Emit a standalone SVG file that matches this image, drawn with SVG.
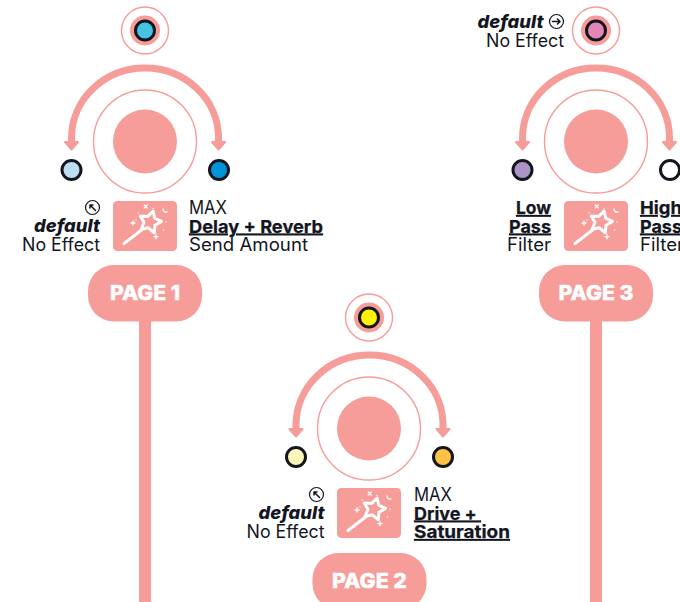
<svg xmlns="http://www.w3.org/2000/svg" xmlns:xlink="http://www.w3.org/1999/xlink" width="680" height="602" viewBox="0 0 680 602">
<style>
.ring{fill:#fff;stroke:#f69c99;stroke-width:1.4}
.pk{fill:#f69c99}
.dot{stroke:#14161f;stroke-width:3}
.arc{fill:none;stroke:#f69c99;stroke-width:7}
.t{font-family:"Inter","Liberation Sans",sans-serif;font-size:18px;fill:#14161f}
.b{font-weight:700;text-decoration:underline;stroke:#14161f;stroke-width:.25}
.d{font-weight:800;font-style:italic}
.e{text-anchor:end}
.p{font-family:"Inter","Liberation Sans",sans-serif;font-weight:800;font-size:20px;fill:#fff;text-anchor:middle;stroke:#fff;stroke-width:.4}
.w{fill:none;stroke:#fff;stroke-width:3;stroke-linejoin:round;stroke-linecap:round}
.w2{fill:none;stroke:#fff;stroke-width:1.3;stroke-linecap:round}
.ic{fill:none;stroke:#14161f;stroke-width:1.2}
.ia{fill:none;stroke:#14161f;stroke-width:1.5;stroke-linecap:round;stroke-linejoin:round}
.hd{fill:#f69c99;stroke:#f69c99;stroke-width:2;stroke-linejoin:round}
</style>
<defs>
<g id="knob">
<circle class="ring" cx="0" cy="0" r="51.500"/>
<circle class="pk" cx="0" cy="0" r="32"/>
</g>
<g id="wand">
<rect class="pk" x="-32" y="-25" width="64" height="50" rx="4.500"/>
<path class="w" d="M-21 17.500L-3.500 4"/>
<path class="w" d="M8.100 -15L9.700 -7.800L16.500 -4.600L10 -.7L9.300 6.800L3.400 1.800L-3.800 3.200L-1 -3.700L-4.800 -10L2.800 -9.600Z"/>
<path class="w2" d="M-.8 -21l3 3M2.200 -21l-3 3M-14 -3h4M-12 -5v4M-7 -13h.1M8 -17.500h.1M18 -17c0 2.500 2 3.500 4 3M21 -4h.1M18.500 4h.1M9 10.700h4M11 8.700v4M-9 -6h.1"/>
</g>
<path id="head" class="hd" d="M-6.500 0L6.500 0L0 7.500Z"/>
</defs>

<g id="connectors">
<rect class="pk" x="139" y="320" width="12" height="282"/>
<rect class="pk" x="590" y="320" width="12" height="282"/>
</g>

<g id="page1">
<circle class="ring" cx="145" cy="30.500" r="23.500"/>
<circle class="pk" cx="145" cy="30.500" r="15"/>
<circle class="dot" cx="145" cy="30.500" r="9.500" fill="#45c4e2"/>
<path class="arc" d="M71.500 143V138A73.500 70 0 0 1 218.500 138V143"/>
<use xlink:href="#head" x="71.500" y="142"/>
<use xlink:href="#head" x="218.500" y="142"/>
<use xlink:href="#knob" x="145" y="141.500"/>
<circle class="dot" cx="71.500" cy="170" r="9.500" fill="#bcdcf0"/>
<circle class="dot" cx="219" cy="170" r="9.500" fill="#0094d8"/>
<use xlink:href="#wand" x="145" y="226"/>
<circle class="ic" cx="92.500" cy="207.500" r="7"/>
<path class="ia" d="M95.500 210.500L90 205M90 208V205H93"/>
<text class="t d e" x="100" y="232" textLength="66" lengthAdjust="spacingAndGlyphs">default</text>
<text class="t e" x="100" y="251" textLength="78" lengthAdjust="spacingAndGlyphs">No Effect</text>
<text class="t" x="189" y="214" textLength="38" lengthAdjust="spacingAndGlyphs">MAX</text>
<text class="t b" x="189" y="232.500" textLength="134" lengthAdjust="spacingAndGlyphs">Delay + Reverb</text>
<text class="t" x="189" y="251" textLength="119" lengthAdjust="spacingAndGlyphs">Send Amount</text>
<rect class="pk" x="88" y="265" width="114" height="56.500" rx="26"/>
<text class="p" x="145" y="300" textLength="70" lengthAdjust="spacingAndGlyphs">PAGE 1</text>
</g>

<g id="page2">
<circle class="ring" cx="369" cy="317.500" r="23.500"/>
<circle class="pk" cx="369" cy="317.500" r="15"/>
<circle class="dot" cx="369" cy="317.500" r="9.500" fill="#fff200"/>
<path class="arc" d="M296 430V425A73.500 70 0 0 1 443 425V430"/>
<use xlink:href="#head" x="296" y="429"/>
<use xlink:href="#head" x="443" y="429"/>
<use xlink:href="#knob" x="369" y="428.500"/>
<circle class="dot" cx="296" cy="457" r="9.500" fill="#fdf6bb"/>
<circle class="dot" cx="443" cy="457" r="9.500" fill="#fdc143"/>
<use xlink:href="#wand" x="369" y="513"/>
<circle class="ic" cx="316.500" cy="494.500" r="7"/>
<path class="ia" d="M319.500 497.500L314 492M314 495V492H317"/>
<text class="t d e" x="324.500" y="519" textLength="66" lengthAdjust="spacingAndGlyphs">default</text>
<text class="t e" x="324.500" y="538" textLength="78" lengthAdjust="spacingAndGlyphs">No Effect</text>
<text class="t" x="414" y="501" textLength="38" lengthAdjust="spacingAndGlyphs">MAX</text>
<text class="t b" x="414" y="519.500" textLength="67" lengthAdjust="spacingAndGlyphs" xml:space="preserve">Drive + </text>
<text class="t b" x="414" y="538" textLength="96" lengthAdjust="spacingAndGlyphs">Saturation</text>
<rect class="pk" x="312.500" y="553" width="114" height="56.500" rx="26"/>
<text class="p" x="369.500" y="588" textLength="75" lengthAdjust="spacingAndGlyphs">PAGE 2</text>
</g>

<g id="page3">
<circle class="ring" cx="596" cy="30.500" r="23.500"/>
<circle class="pk" cx="596" cy="30.500" r="15"/>
<circle class="dot" cx="596" cy="30.500" r="9.500" fill="#e286b8"/>
<path class="arc" d="M522.500 143V138A73.500 70 0 0 1 669.500 138V143"/>
<use xlink:href="#head" x="522.500" y="142"/>
<use xlink:href="#head" x="669.500" y="142"/>
<use xlink:href="#knob" x="596" y="141.500"/>
<circle class="dot" cx="522.500" cy="170" r="9.500" fill="#ac94c4"/>
<circle class="dot" cx="670" cy="170" r="9.500" fill="#fff"/>
<use xlink:href="#wand" x="596" y="226"/>
<text class="t d e" x="543.500" y="28" textLength="66" lengthAdjust="spacingAndGlyphs">default</text>
<circle class="ic" cx="556.500" cy="21.500" r="7"/>
<path class="ia" d="M552.500 21.500H560M557.500 19L560 21.500L557.500 24"/>
<text class="t e" x="564" y="46.500" textLength="78" lengthAdjust="spacingAndGlyphs">No Effect</text>
<text class="t b e" x="551" y="214" textLength="35" lengthAdjust="spacingAndGlyphs">Low</text>
<text class="t b e" x="551" y="232.500" textLength="42" lengthAdjust="spacingAndGlyphs">Pass</text>
<text class="t e" x="551" y="251" textLength="44" lengthAdjust="spacingAndGlyphs">Filter</text>
<text class="t b" x="640" y="214" textLength="42" lengthAdjust="spacingAndGlyphs">High</text>
<text class="t b" x="640" y="232.500" textLength="42" lengthAdjust="spacingAndGlyphs">Pass</text>
<text class="t" x="640" y="251" textLength="44" lengthAdjust="spacingAndGlyphs">Filter</text>
<rect class="pk" x="539" y="265" width="114" height="56.500" rx="26"/>
<text class="p" x="596" y="300" textLength="75" lengthAdjust="spacingAndGlyphs">PAGE 3</text>
</g>
</svg>
